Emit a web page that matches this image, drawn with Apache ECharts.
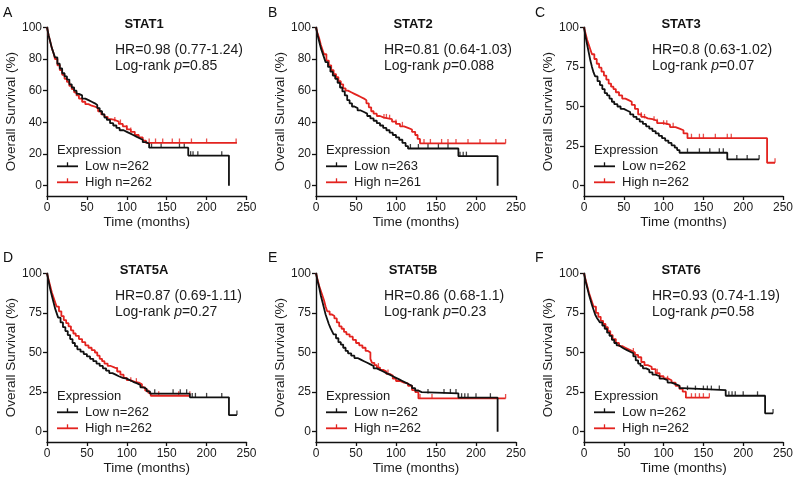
<!DOCTYPE html>
<html><head><meta charset="utf-8">
<script src="https://cdn.jsdelivr.net/npm/echarts@6/dist/echarts.min.js"></script>
<style>html,body{margin:0;padding:0;background:#fff}#c{width:798px;height:483px}</style>
</head><body><div id="c"></div><script>
// ---------- data ----------
const panelLetters = ['A','B','C','D','E','F'];
const genes = ['STAT1','STAT2','STAT3','STAT5A','STAT5B','STAT6'];
const hrLabels = ['HR=0.98 (0.77-1.24)','HR=0.81 (0.64-1.03)','HR=0.8 (0.63-1.02)','HR=0.87 (0.69-1.11)','HR=0.86 (0.68-1.1)','HR=0.93 (0.74-1.19)'];
const pValues = ['0.85','0.088','0.07','0.27','0.23','0.58'];
const lowN = [262,263,262,262,262,262];
const highN = [262,261,262,262,262,262];
const xTicks = [0,50,100,150,200,250];
const yTicksBy20 = [0,20,40,60,80,100];
const yTicksBy25 = [0,25,50,75,100];

const lowA = [[0,100],[2,95],[4,91],[6,87],[8,84],[10,81],[13,77],[16,74],[19,71],[22,69],[25,67],[28,64],[31,62],[34,60],[37,58],[40,57],[44,55],[48,54],[52,53],[56,52],[60,51],[63,49],[66,47],[69,45],[72,43],[75,41.5],[79,39.5],[83,38],[87,36.5],[91,35],[96,34],[100,33],[104,32],[108,31],[112,30],[116,29],[120,27.5],[124,26.5],[128,24],[177,19],[228,0]];
const highA = [[0,100],[2,95],[4,91],[6,87],[8,84],[10,80],[13,76],[16,73],[19,70],[22,67.5],[25,65.5],[28,63],[31,61],[34,59],[37,57],[40,55],[44,53],[48,51.5],[52,50.5],[56,50],[60,49],[64,47],[68,45],[72,43.5],[76,42],[80,41.5],[85,40.5],[90,39],[95,37.5],[100,35.5],[105,34],[110,32],[115,30.5],[120,28.5],[124,27],[238,27]];
const lowCensA = [131,143,166,172,180,183,189,219];
const highCensA = [85,92,100,105,128,136,145,157,166,181,200,237];

const lowB = [[0,100],[2,95],[4,91],[6,87],[8,84],[10,81],[12,78],[15,75],[18,72],[21,69.5],[24,67.5],[27,65],[30,62],[33,59.5],[36,57],[39,54],[42,52],[45,50],[48,49],[52,47.5],[56,46.5],[60,45.5],[64,44],[68,42.5],[72,41],[76,39.5],[80,38],[84,36.5],[88,35],[92,33.5],[96,32],[100,30.5],[104,29],[108,27],[112,25],[115,23.5],[178,18.7],[227,0]];
const highB = [[0,100],[2,96],[4,93],[6,89],[8,86],[10,83],[13,79],[16,76],[19,73],[22,70.5],[25,68.5],[28,66],[31,64],[34,61.5],[37,60],[40,59],[44,58],[48,57],[52,56],[56,55],[60,54],[63,52],[66,49.5],[69,47],[72,45.5],[76,44],[80,43],[85,42.5],[90,42],[95,40.5],[100,39],[105,37.5],[110,36.5],[115,35.5],[120,34],[124,32],[127,29.5],[130,26.7],[237,26.7]];
const lowCensB = [118,128,140,153,165,180,184,188];
const highCensB = [85,88,92,100,108,135,143,157,165,175,190,205,225,237];

const lowC = [[0,100],[2,94],[4,89],[6,84],[8,79],[10,75],[12,71.5],[14,69],[17,66],[20,63.5],[23,61],[26,58.5],[29,57],[32,55],[35,53],[38,51.5],[42,50],[46,48.5],[50,47.5],[54,46.5],[58,45],[62,43.5],[66,42],[70,40.5],[74,39],[78,37.5],[82,36],[86,34.5],[90,33],[94,31.5],[98,30],[102,28.5],[106,27],[110,25.5],[114,24],[117,22.5],[120,20.8],[180,16.6],[220,16.6]];
const highC = [[0,100],[2,96],[4,92],[6,89],[8,86],[10,83],[13,80],[16,77],[19,74.5],[22,72],[25,69.5],[28,67],[31,64.5],[34,62.5],[37,61],[40,59],[44,57],[48,55],[52,54],[56,53],[60,51],[64,48.5],[68,45],[72,43.5],[76,42.5],[80,42],[86,41],[92,39.5],[100,38.5],[108,37],[115,36],[120,35],[125,33],[130,30],[230,14.5],[240,14.5]];
const lowCensC = [130,145,158,170,175,192,205,220];
const highCensC = [72,76,88,92,100,104,112,135,145,150,165,180,185,240];

const lowD = [[0,100],[2,95],[4,90],[6,86],[8,82],[10,78],[12,75],[14,72],[17,69],[20,66],[23,63.5],[26,61],[29,58.5],[32,56],[35,54],[38,52],[42,50.5],[46,49],[50,47.5],[54,46],[58,44.5],[62,43],[66,41.5],[70,40],[74,38.5],[78,37],[82,36],[86,35],[90,34],[95,33.5],[100,32.5],[104,31.5],[108,30.5],[113,29.5],[117,28],[121,27],[125,25.5],[129,24],[179,21.7],[228,10.5],[238,10.5]];
const highD = [[0,100],[2,96],[4,92],[6,88],[8,85],[10,82],[12,79],[15,76],[18,73],[21,70.5],[24,68.5],[27,66.5],[30,64],[33,62],[36,60.5],[40,58.5],[44,56.5],[48,54.5],[52,53],[56,51.5],[60,50],[63,48],[66,46],[69,44.5],[72,43],[76,41.5],[80,40.5],[85,40],[88,38],[92,36],[96,34],[100,32.5],[105,31.5],[110,31],[115,30],[119,28],[123,26],[127,24.5],[130,22.7],[179,22.7]];
const lowCensD = [135,158,167,175,182,186,200,219,238];
const highCensD = [88,105,112,140,165,179];

const lowE = [[0,100],[2,95],[4,91],[6,86],[8,82],[10,78],[12,74],[14,71],[16,68],[18,65.5],[20,63.5],[22,61.5],[25,59],[28,56.5],[31,55],[34,53],[37,51],[40,49.5],[44,48],[48,46.5],[52,45.5],[56,44.5],[60,43.5],[64,42.5],[68,41.5],[72,40],[76,39],[80,38],[84,37],[88,36],[92,35],[96,34],[100,33],[104,32],[108,31],[112,30],[116,29],[120,27.5],[124,26],[128,25],[132,24.2],[178,21.5],[227,0]];
const highE = [[0,100],[2,96],[4,92],[6,89],[8,86],[10,83],[12,79],[14,76],[17,74],[20,73],[23,71.5],[26,69],[29,66.5],[32,65],[35,63],[38,61.5],[42,60],[46,58],[50,56],[54,54.5],[58,53],[62,51],[65,50],[68,46],[70,43.5],[73,42],[76,40.5],[80,39],[84,38],[88,36.5],[92,35.5],[96,33.5],[100,32],[105,31],[110,30.5],[115,29],[120,26.3],[124,25],[128,21],[237,21]];
const lowCensE = [140,160,168,175,182,186,190,200,218];
const highCensE = [78,90,130,145,237];

const lowF = [[0,100],[2,95],[4,91],[6,87],[8,83.5],[10,80],[12,77],[14,74],[16,72],[18,70.5],[20,69],[23,67],[26,65],[29,62.5],[32,60.5],[35,58],[38,56],[41,54.5],[44,53.5],[47,52.5],[50,51.5],[54,50.5],[58,49.5],[62,47.5],[65,45],[68,43],[71,41.5],[74,40],[78,39],[82,37.5],[86,36],[90,35],[95,33.5],[100,32.5],[105,31],[110,30],[115,29],[120,27.5],[124,26.3],[178,22.7],[227.5,11.6],[237.5,11.6]];
const highF = [[0,100],[2,96],[4,92],[6,88],[8,85],[10,82],[12,79],[15,75],[18,72.5],[21,70],[24,68],[27,66],[30,63.5],[33,61],[36,58.5],[40,56],[44,54],[48,53],[52,52],[56,51],[60,50],[64,48.5],[68,47],[72,44],[76,42],[80,41],[85,39.5],[90,37],[95,35],[100,33.7],[105,32.5],[110,31],[115,29],[120,27],[124,25.3],[128,21.5],[157.5,21.5]];
const lowCensF = [130,140,150,155,160,170,182,186,190,200,218,237.5];
const highCensF = [62,92,105,135,140,145,150,157.5];

const lowCurves = [lowA,lowB,lowC,lowD,lowE,lowF];
const highCurves = [highA,highB,highC,highD,highE,highF];
const lowCens = [lowCensA,lowCensB,lowCensC,lowCensD,lowCensE,lowCensF];
const highCens = [highCensA,highCensB,highCensC,highCensD,highCensE,highCensF];
const yTickSets = [yTicksBy20,yTicksBy20,yTicksBy25,yTicksBy25,yTicksBy25,yTicksBy25];

// ---------- layout / style ----------
const FONT = '"Liberation Sans", Arial, Helvetica, sans-serif';
const RED = '#e3231f';
const BLACK = '#111';
const colLeft = [47, 316, 584];
const colWidth = [199.5, 200, 199];
const rowTop = [27.3, 273.3];
const gridH = 168.7;
const Y_MIN = -6.5;

function stepAt(curve, t) {
  let v = curve[0][1];
  for (const p of curve) { if (p[0] <= t) v = p[1]; else break; }
  return v;
}

const grids = [], xAxes = [], yAxes = [], series = [], graphics = [];
for (let i = 0; i < 6; i++) {
  const col = i % 3, row = Math.floor(i / 3);
  const L = colLeft[col], T = rowTop[row];
  grids.push({ left: L, top: T, width: colWidth[col], height: gridH, containLabel: false });
  xAxes.push({
    gridIndex: i, type: 'value', min: 0, max: 250, interval: 50,
    name: 'Time (months)', nameLocation: 'middle', nameGap: 18,
    nameTextStyle: { fontFamily: FONT, fontSize: 13.5, color: '#1a1a1a' },
    axisLine: { onZero: false, lineStyle: { color: BLACK, width: 1.4 } },
    axisTick: { length: 4, lineStyle: { color: BLACK, width: 1.3 } },
    axisLabel: { fontFamily: FONT, fontSize: 12, color: '#1a1a1a', margin: 6 },
    splitLine: { show: false }
  });
  yAxes.push({
    gridIndex: i, type: 'value', min: Y_MIN, max: 100,
    name: 'Overall Survival (%)', nameLocation: 'middle', nameGap: 29,
    nameTextStyle: { fontFamily: FONT, fontSize: 13.5, color: '#1a1a1a' },
    axisLine: { onZero: false, lineStyle: { color: BLACK, width: 1.4 } },
    axisTick: { length: 4, customValues: yTickSets[i], lineStyle: { color: BLACK, width: 1.3 } },
    axisLabel: { fontFamily: FONT, fontSize: 12, color: '#1a1a1a', margin: 5, customValues: yTickSets[i] },
    splitLine: { show: false }
  });
  const mk = (name, data, color) => ({
    type: 'line', name, xAxisIndex: i, yAxisIndex: i, data, step: 'end',
    showSymbol: false, symbol: 'none', silent: true, animation: false,
    lineStyle: { color, width: 1.8 }
  });
  const cens = (name, curve, times, color) => ({
    type: 'scatter', name, xAxisIndex: i, yAxisIndex: i, silent: true, animation: false,
    data: times.map(t => [t, stepAt(curve, t)]),
    symbol: 'rect', symbolSize: [1.3, 4.5], symbolOffset: [0, -2.2],
    itemStyle: { color }
  });
  series.push(mk('High', highCurves[i], RED));
  series.push(cens('HighC', highCurves[i], highCens[i], RED));
  series.push(mk('Low', lowCurves[i], BLACK));
  series.push(cens('LowC', lowCurves[i], lowCens[i], BLACK));

  // annotations
  const letterX = [3, 268, 535][col], letterY = [13, 258][row];
  graphics.push({ type: 'text', x: letterX, y: letterY, style: { text: panelLetters[i], font: '14px ' + FONT, fill: '#111', textVerticalAlign: 'middle' } });
  graphics.push({ type: 'text', x: L + 97, y: T - 3, style: { text: genes[i], font: 'bold 13px ' + FONT, fill: '#111', textAlign: 'center', textVerticalAlign: 'middle' } });
  graphics.push({ type: 'text', x: L + 68, y: T + 23, style: { text: hrLabels[i], font: '14px ' + FONT, fill: '#1a1a1a', textVerticalAlign: 'middle' } });
  graphics.push({ type: 'text', x: L + 68, y: T + 39, style: {
    text: '{a|Log-rank }{i|p}{a|=' + pValues[i] + '}', textVerticalAlign: 'middle',
    rich: { a: { font: '14px ' + FONT, fill: '#1a1a1a' }, i: { font: 'italic 14px ' + FONT, fill: '#1a1a1a' } } } });
  // legend
  const lx = L + 10, ly = T + 123;
  graphics.push({ type: 'text', x: lx, y: ly, style: { text: 'Expression', font: '13px ' + FONT, fill: '#1a1a1a', textVerticalAlign: 'middle' } });
  const rows = [['Low n=' + lowN[i], BLACK], ['High n=' + highN[i], RED]];
  rows.forEach((r, k) => {
    const yy = ly + 16 + k * 16;
    graphics.push({ type: 'line', shape: { x1: lx, y1: yy, x2: lx + 21, y2: yy }, style: { stroke: r[1], lineWidth: 1.8 } });
    graphics.push({ type: 'line', shape: { x1: lx + 10.5, y1: yy, x2: lx + 10.5, y2: yy - 4 }, style: { stroke: r[1], lineWidth: 1.3 } });
    graphics.push({ type: 'text', x: lx + 28, y: yy, style: { text: r[0], font: '13px ' + FONT, fill: '#1a1a1a', textVerticalAlign: 'middle' } });
  });
}

const chart = echarts.init(document.getElementById('c'), null, { renderer: 'canvas' });
chart.setOption({
  backgroundColor: '#fff', animation: false,
  grid: grids, xAxis: xAxes, yAxis: yAxes, series, graphic: graphics
});
</script></body></html>
